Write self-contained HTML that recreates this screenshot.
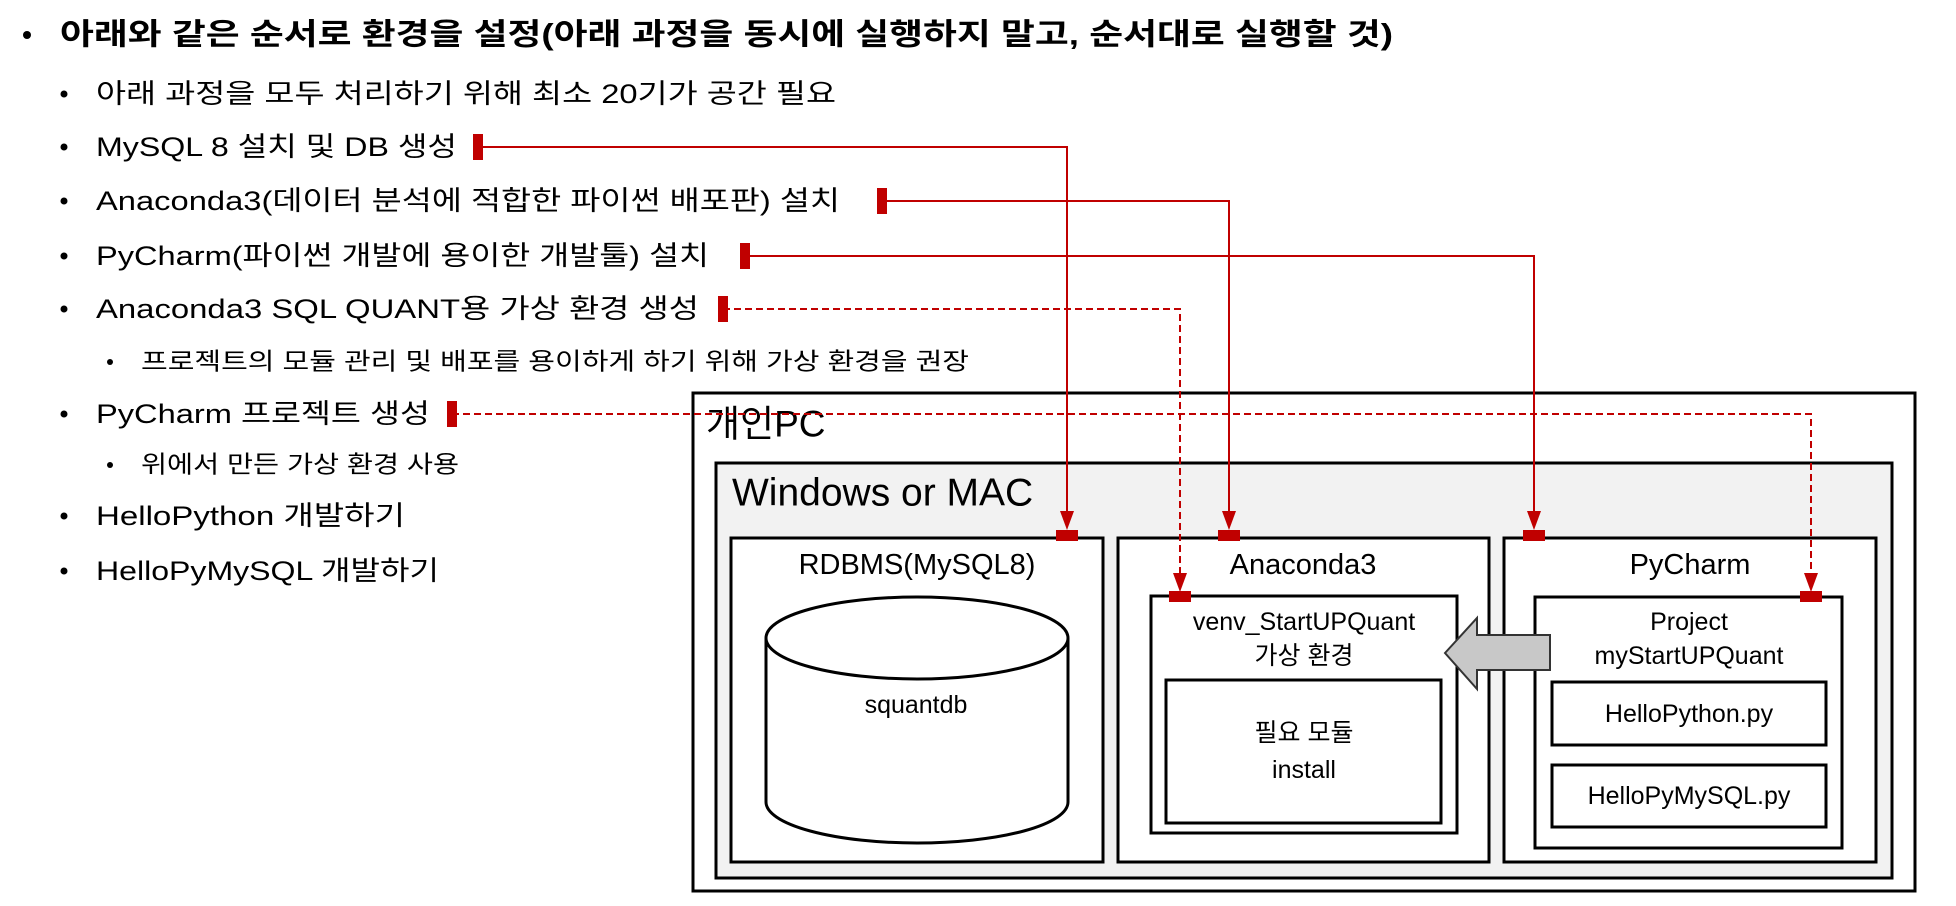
<!DOCTYPE html>
<html><head><meta charset="utf-8"><style>
html,body{margin:0;padding:0;background:#fff;}
svg{display:block;}
text{font-family:"Liberation Sans","Noto Sans CJK KR",sans-serif;fill:#000;}
</style></head><body>
<svg width="1956" height="906" viewBox="0 0 1956 906" xmlns="http://www.w3.org/2000/svg">
<!-- bullets text -->
<g dominant-baseline="central">
<circle cx="27" cy="35" r="4" fill="#000"/>
<text x="60" y="35" font-size="30" font-weight="bold" textLength="1333" lengthAdjust="spacingAndGlyphs">아래와 같은 순서로 환경을 설정(아래 과정을 동시에 실행하지 말고, 순서대로 실행할 것)</text>
<g font-size="27">
<circle cx="64" cy="94" r="3.5" fill="#000"/><text x="96" y="94" textLength="740" lengthAdjust="spacingAndGlyphs">아래 과정을 모두 처리하기 위해 최소 20기가 공간 필요</text>
<circle cx="64" cy="147" r="3.5" fill="#000"/><text x="96" y="147" textLength="361" lengthAdjust="spacingAndGlyphs">MySQL 8 설치 및 DB 생성</text>
<circle cx="64" cy="201" r="3.5" fill="#000"/><text x="96" y="201" textLength="744" lengthAdjust="spacingAndGlyphs">Anaconda3(데이터 분석에 적합한 파이썬 배포판) 설치</text>
<circle cx="64" cy="256" r="3.5" fill="#000"/><text x="96" y="256" textLength="613" lengthAdjust="spacingAndGlyphs">PyCharm(파이썬 개발에 용이한 개발툴) 설치</text>
<circle cx="64" cy="309" r="3.5" fill="#000"/><text x="96" y="309" textLength="603" lengthAdjust="spacingAndGlyphs">Anaconda3 SQL QUANT용 가상 환경 생성</text>
<circle cx="64" cy="414" r="3.5" fill="#000"/><text x="96" y="414" textLength="334" lengthAdjust="spacingAndGlyphs">PyCharm 프로젝트 생성</text>
<circle cx="64" cy="516" r="3.5" fill="#000"/><text x="96" y="516" textLength="309" lengthAdjust="spacingAndGlyphs">HelloPython 개발하기</text>
<circle cx="64" cy="571" r="3.5" fill="#000"/><text x="96" y="571" textLength="343" lengthAdjust="spacingAndGlyphs">HelloPyMySQL 개발하기</text>
</g>
<g font-size="24">
<circle cx="110" cy="362" r="3" fill="#000"/><text x="141" y="362" textLength="828" lengthAdjust="spacingAndGlyphs">프로젝트의 모듈 관리 및 배포를 용이하게 하기 위해 가상 환경을 권장</text>
<circle cx="110" cy="465" r="3" fill="#000"/><text x="141" y="465" textLength="318" lengthAdjust="spacingAndGlyphs">위에서 만든 가상 환경 사용</text>
</g>
</g>

<!-- boxes -->
<rect x="693" y="393" width="1222" height="498" fill="#fff" stroke="#000" stroke-width="3"/>
<rect x="716" y="463" width="1176" height="415" fill="#f2f2f2" stroke="#000" stroke-width="3"/>
<rect x="731" y="538" width="372" height="324" fill="#fff" stroke="#000" stroke-width="3"/>
<rect x="1118" y="538" width="371" height="324" fill="#fff" stroke="#000" stroke-width="3"/>
<rect x="1504" y="538" width="372" height="324" fill="#fff" stroke="#000" stroke-width="3"/>
<rect x="1151" y="596" width="306" height="237" fill="#fff" stroke="#000" stroke-width="3"/>
<rect x="1166" y="680" width="275" height="143" fill="#fff" stroke="#000" stroke-width="3"/>
<rect x="1535" y="597" width="307" height="251" fill="#fff" stroke="#000" stroke-width="3"/>
<rect x="1552" y="682" width="274" height="63" fill="#fff" stroke="#000" stroke-width="3"/>
<rect x="1552" y="765" width="274" height="62" fill="#fff" stroke="#000" stroke-width="3"/>

<!-- cylinder -->
<path d="M766 638 L766 802 A151 41 0 0 0 1068 802 L1068 638" fill="#fff" stroke="#000" stroke-width="3"/>
<ellipse cx="917" cy="638" rx="151" ry="41" fill="#fff" stroke="#000" stroke-width="3"/>

<!-- gray block arrow -->
<polygon points="1445,653 1477,618 1477,635 1550,635 1550,670 1477,670 1477,689" fill="#c8c8c8" stroke="#333" stroke-width="2"/>

<!-- labels -->
<g dominant-baseline="central" text-anchor="middle">
<text x="706" y="424" font-size="37" text-anchor="start">개인PC</text>
<text x="732" y="493" font-size="39" text-anchor="start">Windows or MAC</text>
<text x="917" y="565" font-size="29">RDBMS(MySQL8)</text>
<text x="1303" y="565" font-size="29">Anaconda3</text>
<text x="1690" y="565" font-size="29">PyCharm</text>
<text x="916" y="705" font-size="25">squantdb</text>
<text x="1304" y="622" font-size="25">venv_StartUPQuant</text>
<text x="1304" y="656" font-size="25">가상 환경</text>
<text x="1304" y="733" font-size="25">필요 모듈</text>
<text x="1304" y="770" font-size="25">install</text>
<text x="1689" y="622" font-size="25">Project</text>
<text x="1689" y="656" font-size="25">myStartUPQuant</text>
<text x="1689" y="714" font-size="25">HelloPython.py</text>
<text x="1689" y="796" font-size="25">HelloPyMySQL.py</text>
</g>

<!-- connectors -->
<g stroke="#c00000" stroke-width="2" fill="none">
<polyline points="478,147 1067,147 1067,512"/>
<polyline points="882,201 1229,201 1229,512"/>
<polyline points="745,256 1534,256 1534,512"/>
<polyline points="723,309 1180,309 1180,574" stroke-dasharray="7,4"/>
<polyline points="452,414 1811,414 1811,574" stroke-dasharray="7,4"/>
</g>
<g fill="#c00000">
<rect x="473" y="134" width="10" height="26"/>
<rect x="877" y="188" width="10" height="26"/>
<rect x="740" y="243" width="10" height="26"/>
<rect x="718" y="296" width="10" height="26"/>
<rect x="447" y="401" width="10" height="26"/>
<polygon points="1060,511 1074,511 1067,530"/>
<polygon points="1222,511 1236,511 1229,530"/>
<polygon points="1527,511 1541,511 1534,530"/>
<polygon points="1173,573 1187,573 1180,592"/>
<polygon points="1804,573 1818,573 1811,592"/>
<rect x="1056" y="530" width="22" height="11"/>
<rect x="1218" y="530" width="22" height="11"/>
<rect x="1523" y="530" width="22" height="11"/>
<rect x="1169" y="591" width="22" height="11"/>
<rect x="1800" y="591" width="22" height="11"/>
</g>
</svg>
</body></html>
